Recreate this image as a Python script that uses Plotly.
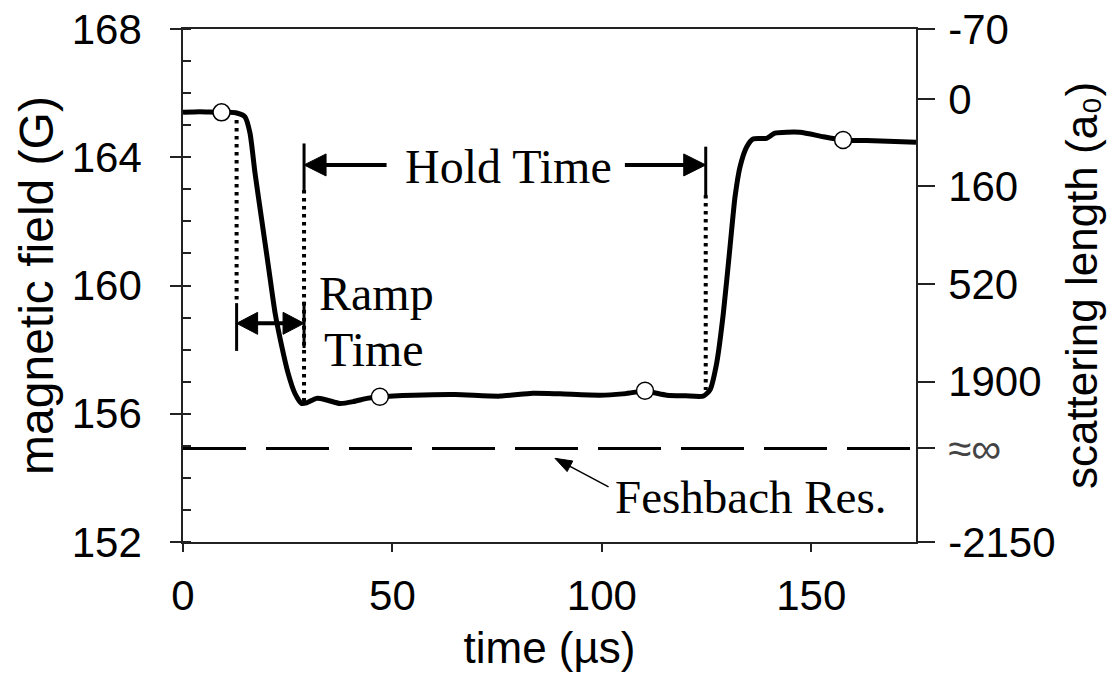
import math
import plotly.graph_objects as go

# ---------------- data ----------------
time_us = [0, 4, 8, 11, 12.8, 14.8, 16.0, 17.2, 18.8, 20.4, 22.0, 23.6, 25.1, 26.7, 28.3,
           29.5, 31.9, 34.3, 37.5, 40.7, 43.9, 47.0, 55, 65, 75.7, 83.5, 90, 99.5, 105,
           110.3, 115.5, 120, 124.2, 125.8, 127.4, 129.0, 130.6, 131.8, 133.0, 134.6,
           136.1, 139.3, 141.3, 147.3, 152.9, 157.6, 163.2, 170, 175]
field_G = [165.40, 165.42, 165.40, 165.40, 165.38, 165.26, 164.75, 163.50, 162.04, 160.59,
           159.13, 158.09, 157.26, 156.64, 156.32, 156.34, 156.48, 156.43, 156.32, 156.38,
           156.48, 156.53, 156.58, 156.60, 156.55, 156.64, 156.62, 156.58, 156.62, 156.70,
           156.58, 156.56, 156.55, 156.74, 157.57, 159.13, 161.21, 162.77, 163.71, 164.33,
           164.57, 164.59, 164.75, 164.78, 164.64, 164.54, 164.52, 164.49, 164.47]

marker_t = [9.2, 47.0, 110.3, 157.6]
marker_G = [165.40, 156.53, 156.72, 164.54]

feshbach_G = 154.92
feshbach_t = [0, 175]

# right axis: scattering length labels at field positions
scat_pos = [168.0, 165.82, 163.10, 160.04, 157.0, 154.92, 152.0]
scat_txt = ["-70", "0", "160", "520", "1900", '<span style="color:#444444">≈∞</span>', "-2150"]

x_ticks = [0, 50, 100, 150]
y_ticks = [152, 156, 160, 164, 168]

X_RANGE = [0, 175]
Y_RANGE = [152, 168]

# annotation geometry (data units)
ramp_start = 12.8
ramp_end = 28.9
hold_end = 124.8
hold_arrow_G = 163.76
ramp_arrow_G = 158.82
hold_left_tail = 48.6
hold_right_tail = 105.5
fesh_tip = (88.8, 154.61)
fesh_tail = (101.6, 153.72)

BLACK = "#000000"
AX = "#222222"
SERIF = "Liberation Serif, Times New Roman, serif"
SANS = "Liberation Sans, Arial, sans-serif"

W, H = 1113, 677
ML, MR, MT, MB = 183, 197, 29, 135
SX = (W - ML - MR) / (X_RANGE[1] - X_RANGE[0])   # px per time unit
SY = (H - MT - MB) / (Y_RANGE[1] - Y_RANGE[0])   # px per gauss

fig = go.Figure()

fig.add_trace(go.Scatter(x=feshbach_t, y=[feshbach_G, feshbach_G], mode="lines",
                         line=dict(color=BLACK, width=3, dash="63px,20px"),
                         hoverinfo="skip", showlegend=False))


def guide(x, y0, y1, dotted=False):
    fig.add_trace(go.Scatter(x=[x, x], y=[y0, y1], mode="lines",
                             line=dict(color=BLACK, width=4 if dotted else 3,
                                       dash="3.5px,4.5px" if dotted else "solid"),
                             hoverinfo="skip", showlegend=False))


# dotted guides
guide(ramp_start, 165.16, 159.50, dotted=True)
guide(ramp_end, 162.98, 156.33, dotted=True)
guide(hold_end, 162.82, 156.74, dotted=True)
# solid bars
guide(ramp_start, 159.45, 157.96)
guide(ramp_end, 159.50, 158.05)
guide(ramp_end, 164.43, 162.98)
guide(hold_end, 164.33, 162.82)

fig.add_trace(go.Scatter(x=time_us, y=field_G, mode="lines",
                         line=dict(color=BLACK, width=5, shape="spline", smoothing=0.6),
                         showlegend=False))
fig.add_trace(go.Scatter(x=marker_t, y=marker_G, mode="markers",
                         marker=dict(size=17, color="white", line=dict(color=BLACK, width=1.5)),
                         showlegend=False))
# invisible trace for the right axis
fig.add_trace(go.Scatter(x=[0], y=[160], yaxis="y2", mode="markers",
                         marker=dict(opacity=0), hoverinfo="skip", showlegend=False))


def arrow(tail, tip, width, head_len, head_half, heads=("end",)):
    """Draw a shaft plus filled triangular head(s) in data coordinates."""
    (t0, g0), (t1, g1) = tail, tip
    dx, dy = (t1 - t0) * SX, (g1 - g0) * SY
    d = math.hypot(dx, dy)
    ux, uy = dx / d, dy / d
    nx, ny = -uy, ux
    pts = {"start": (t0, g0, -1), "end": (t1, g1, 1)}
    s0 = (t0, g0)
    s1 = (t1, g1)
    for h in heads:
        tt, gg, sgn = pts[h]
        bx = tt - sgn * ux * head_len / SX
        by = gg - sgn * uy * head_len / SY
        xs = [tt, bx + nx * head_half / SX, bx - nx * head_half / SX, tt]
        ys = [gg, by + ny * head_half / SY, by - ny * head_half / SY, gg]
        fig.add_trace(go.Scatter(x=xs, y=ys, mode="lines", fill="toself", fillcolor=BLACK,
                                 line=dict(color=BLACK, width=1), hoverinfo="skip",
                                 showlegend=False))
        back = head_len * 0.6
        if h == "end":
            s1 = (tt - ux * back / SX, gg - uy * back / SY)
        else:
            s0 = (tt + ux * back / SX, gg + uy * back / SY)
    fig.add_trace(go.Scatter(x=[s0[0], s1[0]], y=[s0[1], s1[1]], mode="lines",
                             line=dict(color=BLACK, width=width), hoverinfo="skip",
                             showlegend=False))


arrow((hold_left_tail, hold_arrow_G), (ramp_end, hold_arrow_G), 4, 22, 11)
arrow((hold_right_tail, hold_arrow_G), (hold_end, hold_arrow_G), 4, 22, 11)
arrow((ramp_start, ramp_arrow_G), (ramp_end, ramp_arrow_G), 4, 21, 11, heads=("start", "end"))
arrow(fesh_tail, fesh_tip, 1.5, 17, 6)

annotations = [
    dict(x=77.6, y=163.70, xref="x", yref="y", text="Hold Time", showarrow=False,
         font=dict(family=SERIF, size=48, color=BLACK), xanchor="center", yanchor="middle"),
    dict(x=32.1, y=159.75, xref="x", yref="y", text="Ramp", showarrow=False,
         font=dict(family=SERIF, size=48, color=BLACK), xanchor="left", yanchor="middle"),
    dict(x=33.2, y=158.0, xref="x", yref="y", text="Time", showarrow=False,
         font=dict(family=SERIF, size=48, color=BLACK), xanchor="left", yanchor="middle"),
    dict(x=102.6, y=153.40, xref="x", yref="y", text="Feshbach Res.", showarrow=False,
         font=dict(family=SERIF, size=47, color=BLACK), xanchor="left", yanchor="middle"),
]

fig.update_layout(
    width=W, height=H,
    margin=dict(l=ML, r=MR, t=MT, b=MB, autoexpand=False),
    paper_bgcolor="white", plot_bgcolor="white",
    font=dict(family=SANS, color=BLACK),
    annotations=annotations,
    xaxis=dict(range=X_RANGE, tickvals=x_ticks, ticks="outside", ticklen=8, tickwidth=1.5,
               tickcolor=AX, showline=True, linecolor=AX, linewidth=1.5, mirror=True,
               showgrid=False, zeroline=False, tickfont=dict(size=42, family=SANS),
               ticklabelstandoff=8, automargin=False,
               title=dict(text="time (µs)", font=dict(size=44, family=SANS), standoff=14)),
    yaxis=dict(range=Y_RANGE, tickvals=y_ticks, ticks="outside", ticklen=11, tickwidth=1.5,
               tickcolor=AX, showline=True, linecolor=AX, linewidth=1.5,
               showgrid=False, zeroline=False, tickfont=dict(size=42, family=SANS),
               ticklabelstandoff=20, automargin=False,
               minor=dict(dtick=1, ticks="inside", ticklen=8, tickwidth=1.5, tickcolor=AX,
                          showgrid=False),
               title=dict(text="magnetic field (G)", font=dict(size=48, family=SANS), standoff=3)),
    yaxis2=dict(range=Y_RANGE, overlaying="y", side="right", tickvals=scat_pos,
                ticktext=scat_txt, ticks="outside", ticklen=17, tickwidth=1.5, tickcolor=AX,
                showline=True, linecolor=AX, linewidth=1.5, showgrid=False, zeroline=False,
                tickfont=dict(size=42, family=SANS), ticklabelstandoff=5, automargin=False,
                title=dict(text="scattering length (a₀)",
                           font=dict(size=44, family=SANS), standoff=12)),
)

fig.write_html("out.html")
